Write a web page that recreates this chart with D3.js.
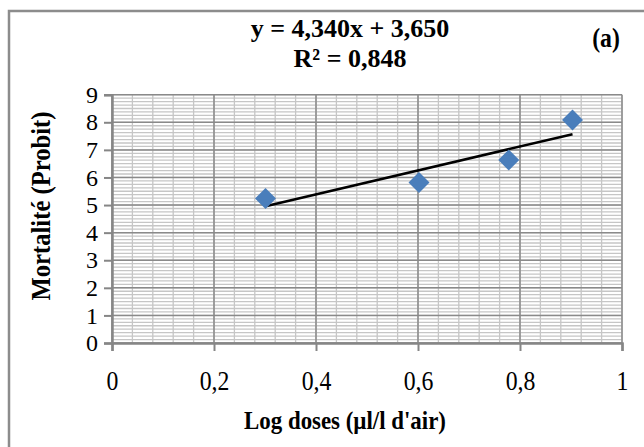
<!DOCTYPE html>
<html>
<head>
<meta charset="utf-8">
<script src="https://cdn.jsdelivr.net/npm/d3@7"></script>
<style>
  body { margin: 0; background: #fff; }
  text { font-family: "Liberation Serif", "Times New Roman", serif; fill: #000; }
</style>
</head>
<body>
<div id="plot_area"></div>
<script>
// data
var logDoses = [0.301, 0.602, 0.778, 0.903];
var probits = [5.24, 5.82, 6.63, 8.08];
var slope = 4.340, intercept = 3.650;
var xTicks = [0, 0.2, 0.4, 0.6, 0.8, 1];
var yTicks = [0, 1, 2, 3, 4, 5, 6, 7, 8, 9];
var eqText = "y = 4,340x + 3,650";
var r2Text = "R² = 0,848";
var panelLabel = "(a)";
var xTitle = "Log doses (µl/l d'air)";
var yTitle = "Mortalité (Probit)";

var W = 644, H = 447;
var margin = {top: 94.7, right: 22, bottom: 104, left: 112},
    width = W - margin.left - margin.right,
    height = H - margin.top - margin.bottom;

// the text in the picture looks a bit narrow, so squeeze it horizontally
var squeeze = 0.88;

var svg = d3.select("#plot_area").append("svg")
    .attr("width", W).attr("height", H);

// outer chart border (only left and top visible)
svg.append("path")
  .attr("d", "M9," + H + "V11H" + W)
  .attr("fill", "none").attr("stroke", "#8c8c8c").attr("stroke-width", 2.5);

var g = svg.append("g")
  .attr("transform", "translate(" + margin.left + "," + margin.top + ")");

var x = d3.scaleLinear().domain([0, 1]).range([0, width]);
var y = d3.scaleLinear().domain([0, 9]).range([height, 0]);

// minor gridlines
var xMinor = d3.range(0, 1.0001, 0.04);
var yMinor = d3.range(0, 9.0001, 0.125);
g.selectAll(".ymin").data(yMinor).enter().append("line")
  .attr("x1", 0).attr("x2", width)
  .attr("y1", function(d) { return y(d); }).attr("y2", function(d) { return y(d); })
  .attr("stroke", "#c6c6c6").attr("stroke-width", 1.3);
g.selectAll(".xmin").data(xMinor).enter().append("line")
  .attr("y1", 0).attr("y2", height)
  .attr("x1", function(d) { return x(d); }).attr("x2", function(d) { return x(d); })
  .attr("stroke", "#c6c6c6").attr("stroke-width", 1.3);

// major gridlines
g.selectAll(".ymaj").data(yTicks).enter().append("line")
  .attr("x1", 0).attr("x2", width)
  .attr("y1", function(d) { return y(d); }).attr("y2", function(d) { return y(d); })
  .attr("stroke", "#8a8a8a").attr("stroke-width", 1.5);
g.selectAll(".xmaj").data(xTicks).enter().append("line")
  .attr("y1", 0).attr("y2", height)
  .attr("x1", function(d) { return x(d); }).attr("x2", function(d) { return x(d); })
  .attr("stroke", "#8a8a8a").attr("stroke-width", 1.5);

// axes
var fmt = function(d) { return String(d).replace(".", ","); };
var xAxis = g.append("g")
  .attr("transform", "translate(0," + height + ")")
  .call(d3.axisBottom(x).tickValues(xTicks).tickFormat(fmt).tickSize(8).tickPadding(20));
var yAxis = g.append("g")
  .call(d3.axisLeft(y).tickValues(yTicks).tickSize(8).tickPadding(6));

g.selectAll(".domain").attr("stroke", "#868686").attr("stroke-width", 2.5);
g.selectAll(".tick line").attr("stroke", "#868686").attr("stroke-width", 2);
g.selectAll(".tick text")
  .style("font-family", "'Liberation Serif', serif")
  .attr("fill", "#000");
xAxis.selectAll(".tick text").style("font-size", "27px")
  .attr("transform", "scale(" + squeeze + ",1)");
yAxis.selectAll(".tick text").style("font-size", "24px");

// trendline
var trend = d3.extent(logDoses).map(function(v) { return [v, slope * v + intercept]; });
g.append("path")
  .datum(trend)
  .attr("d", d3.line().x(function(d) { return x(d[0]); }).y(function(d) { return y(d[1]); }))
  .attr("stroke", "#000").attr("stroke-width", 2.5).attr("fill", "none");

// markers
var pts = logDoses.map(function(v, i) { return [v, probits[i]]; });
g.selectAll(".dot").data(pts).enter().append("path")
  .attr("d", d3.symbol(d3.symbolSquare, 220))
  .attr("transform", function(d) { return "translate(" + x(d[0]) + "," + y(d[1]) + ") rotate(45)"; })
  .attr("fill", "#4a7ebb");

function label(px, py, size, txt, rot, sx) {
  svg.append("text")
    .attr("transform", "translate(" + px + "," + py + ")" + (rot ? " rotate(" + rot + ")" : "") +
          " scale(" + (sx || squeeze) + ",1)")
    .attr("text-anchor", "middle")
    .style("font-size", size + "px").style("font-weight", "bold")
    .text(txt);
}

// equation and panel label
label(350, 37, 26, eqText, 0, 1);
label(350, 67, 26, r2Text, 0, 1);
label(606, 47, 27, panelLabel);

// axis titles
label(345, 429, 26, xTitle);
label(50, 206, 28, yTitle, -90);
</script>
</body>
</html>
